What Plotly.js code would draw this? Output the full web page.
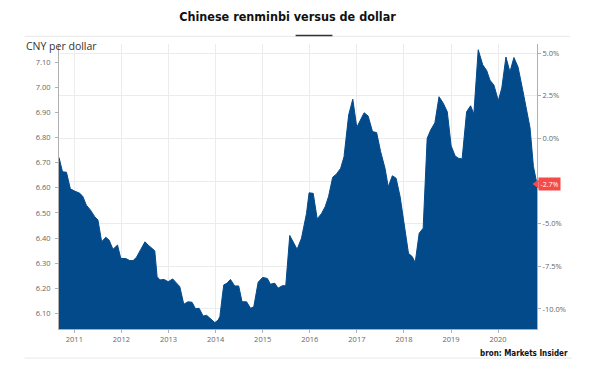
<!DOCTYPE html>
<html>
<head>
<meta charset="utf-8">
<script src="https://cdn.plot.ly/plotly-3.0.1.min.js"></script>
<style>
  html, body { margin: 0; padding: 0; background: #ffffff; }
  #chart { width: 600px; height: 367px; }
</style>
</head>
<body>
<div id="chart"></div>
<script>
// Dates of the readings (CNY per US dollar)
const dates = [
  "2010-09-04","2010-10-01","2010-11-01","2010-12-01","2010-12-30",
  "2011-02-13","2011-03-08","2011-04-04","2011-05-05","2011-06-08","2011-07-03","2011-08-01","2011-09-02","2011-09-27","2011-10-28","2011-12-02","2011-12-27",
  "2012-02-05","2012-03-06","2012-04-01","2012-04-27","2012-05-22","2012-06-17","2012-07-02","2012-07-26","2012-08-30","2012-09-16","2012-10-04","2012-10-25","2012-11-26","2012-12-29",
  "2013-02-02","2013-03-03","2013-03-29","2013-04-29","2013-06-01","2013-07-02","2013-07-29","2013-08-26","2013-09-26","2013-10-23","2013-11-23","2013-12-26",
  "2014-01-21","2014-02-03","2014-02-23","2014-03-05","2014-03-30","2014-04-26","2014-05-29","2014-06-29","2014-07-25","2014-08-29","2014-09-29","2014-10-24","2014-11-27",
  "2015-01-01","2015-02-06","2015-03-02","2015-04-05","2015-04-30","2015-06-03","2015-06-29","2015-07-30","2015-08-24","2015-09-25","2015-10-29","2015-12-07","2015-12-27",
  "2016-01-28","2016-02-28","2016-04-02","2016-04-30","2016-05-26","2016-06-27","2016-07-27","2016-08-28","2016-09-23","2016-10-29","2016-11-30","2016-12-31",
  "2017-01-26","2017-02-26","2017-03-29","2017-05-02","2017-06-03","2017-07-04","2017-08-07","2017-09-01","2017-10-03","2017-11-01","2017-12-02",
  "2018-01-02","2018-02-05","2018-03-06","2018-03-29","2018-04-29","2018-05-30","2018-06-30","2018-07-27","2018-08-29","2018-09-30","2018-11-02","2018-12-03",
  "2019-01-02","2019-02-02","2019-02-27","2019-03-28","2019-05-02","2019-06-02","2019-06-27","2019-07-31","2019-09-04","2019-10-05","2019-10-30","2019-11-30",
  "2020-01-03","2020-01-30","2020-03-02","2020-04-02","2020-05-03","2020-06-04","2020-07-10","2020-08-15","2020-09-05","2020-10-01","2020-10-29"
];
const cnyPerDollar = [
  6.721,6.664,6.662,6.596,6.588,
  6.578,6.565,6.531,6.512,6.485,6.472,6.385,6.403,6.392,6.355,6.372,6.319,
  6.318,6.310,6.310,6.323,6.345,6.372,6.385,6.372,6.355,6.349,6.246,6.233,6.235,6.226,
  6.237,6.219,6.206,6.136,6.146,6.144,6.118,6.120,6.089,6.092,6.076,6.063,
  6.073,6.087,6.173,6.213,6.220,6.235,6.209,6.209,6.146,6.146,6.120,6.126,6.224,
  6.243,6.239,6.216,6.220,6.200,6.210,6.210,6.410,6.385,6.355,6.399,6.498,6.580,
  6.578,6.476,6.498,6.525,6.565,6.642,6.655,6.678,6.724,6.890,6.953,6.841,
  6.870,6.899,6.886,6.824,6.820,6.744,6.678,6.604,6.648,6.638,6.565,
  6.465,6.339,6.326,6.302,6.419,6.439,6.797,6.830,6.859,6.963,6.937,6.903,
  6.767,6.727,6.718,6.715,6.903,6.927,6.894,7.150,7.090,7.067,7.029,7.009,
  6.947,6.998,7.121,7.062,7.119,7.081,6.990,6.890,6.839,6.686,6.615
];
// Reference level for the percentage axis (0.0%)
const baseRate = 6.797;
const latestLabel = "-2.7%";
// Right-axis ticks (percent); the -2.5% label is hidden behind the latest-value tag
const pctTicks = [5, 2.5, 0, -2.5, -5, -7.5, -10];
const pctTickText = ["5.0%", "2.5%", "0.0%", "", "-5.0%", "-7.5%", "-10.0%"];

const titleText = "Chinese renminbi versus de dollar";
const yTitle = "CNY per dollar";
const sourceText = "bron: Markets Insider";

const pctChange = cnyPerDollar.map(v => (v / baseRate - 1) * 100);
const yRange = [6.0375, 7.173];
const y2Range = yRange.map(v => (v / baseRate - 1) * 100);
const lastPct = pctChange[pctChange.length - 1];

const fillColor = "#034a8b";

const traces = [
  {
    x: dates, y: cnyPerDollar, type: "scatter", mode: "lines",
    fill: "tozeroy", fillcolor: fillColor,
    line: { color: fillColor, width: 1 },
    hoverinfo: "skip", yaxis: "y"
  },
  {
    x: dates, y: pctChange, type: "scatter", mode: "lines",
    line: { color: "rgba(0,0,0,0)", width: 0 },
    hoverinfo: "skip", yaxis: "y2", showlegend: false
  }
];

const tickFont = { family: "Open Sans, Liberation Sans, sans-serif", size: 7.5, color: "#666666" };

const layout = {
  width: 600, height: 367,
  margin: { l: 59, r: 63, t: 44, b: 38, pad: 0 },
  paper_bgcolor: "#ffffff", plot_bgcolor: "#ffffff",
  showlegend: false,
  title: {
    text: "<b>" + titleText + "</b>",
    font: { family: "Liberation Sans Narrow, DejaVu Sans Condensed, sans-serif", size: 12.5, color: "#111111" },
    x: 0.478, xanchor: "center", xref: "paper",
    y: 1 - 17 / 367, yanchor: "middle", yref: "container"
  },
  xaxis: {
    type: "date",
    range: ["2010-09-04", "2020-10-29"],
    tick0: "2011-01-01", dtick: "M12", tickformat: "%Y",
    showgrid: true, gridcolor: "#ececec", gridwidth: 1,
    showline: true, linecolor: "#b0b0b0", linewidth: 1,
    ticks: "outside", ticklen: 3, tickcolor: "#b0b0b0",
    tickfont: tickFont, zeroline: false, fixedrange: true
  },
  yaxis: {
    range: yRange,
    tick0: 6.1, dtick: 0.1, tickformat: ".2f",
    showgrid: false, zeroline: false,
    showline: true, linecolor: "#b0b0b0", linewidth: 1,
    ticks: "outside", ticklen: 3, tickcolor: "#b0b0b0",
    tickfont: tickFont, ticklabelstandoff: 3
  },
  yaxis2: {
    overlaying: "y", side: "right",
    range: y2Range,
    tickmode: "array", tickvals: pctTicks, ticktext: pctTickText,
    showgrid: true, gridcolor: "#ececec", gridwidth: 1,
    zeroline: false,
    showline: true, linecolor: "#b0b0b0", linewidth: 1,
    ticks: "outside", ticklen: 3, tickcolor: "#b0b0b0",
    tickfont: tickFont
  },
  shapes: [
    { type: "line", xref: "paper", yref: "paper", x0: -0.072, x1: 1.069, y0: 1.027, y1: 1.027,
      line: { color: "#e8e8e8", width: 1 } },
    { type: "line", xref: "paper", yref: "paper", x0: 0.495, x1: 0.572, y0: 1.030, y1: 1.030,
      line: { color: "#333333", width: 1.5 } },
    { type: "line", xref: "paper", yref: "paper", x0: -0.072, x1: 1.073, y0: -0.102, y1: -0.102,
      line: { color: "#e8e8e8", width: 1 } },
    { type: "path", xref: "paper", yref: "y2", xsizemode: "pixel", ysizemode: "pixel",
      xanchor: 1, yanchor: lastPct, layer: "above",
      path: "M -4.5 0 L 1.5 4.5 L 1.5 -4.5 Z",
      fillcolor: "#f44a48", line: { width: 0 } }
  ],
  annotations: [
    { text: yTitle, xref: "paper", yref: "paper", x: -0.074, y: 0.993,
      xanchor: "left", yanchor: "middle", showarrow: false,
      font: { family: "Open Sans, Liberation Sans, sans-serif", size: 10.5, color: "#333333" } },
    { text: latestLabel, xref: "paper", yref: "y2", x: 1, y: lastPct,
      xanchor: "left", yanchor: "middle", xshift: 1, showarrow: false,
      bgcolor: "#f44a48", borderpad: 1.5,
      font: { family: "Open Sans, Liberation Sans, sans-serif", size: 7, color: "#ffffff" } },
    { text: "<b>" + sourceText + "</b>", xref: "paper", yref: "paper", x: 1.07, y: -0.085,
      xanchor: "right", yanchor: "middle", showarrow: false,
      font: { family: "Liberation Sans Narrow, DejaVu Sans Condensed, sans-serif", size: 8, color: "#111111" } }
  ]
};

Plotly.newPlot("chart", traces, layout, { staticPlot: true, displayModeBar: false });
</script>
</body>
</html>
